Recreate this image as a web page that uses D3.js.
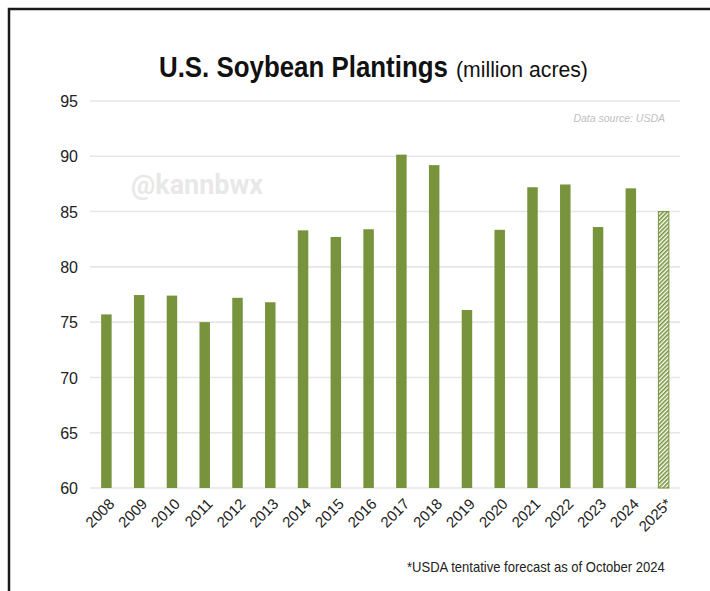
<!DOCTYPE html>
<html>
<head>
<meta charset="utf-8">
<script src="https://cdn.jsdelivr.net/npm/d3@7"></script>
<style>
html,body{margin:0;padding:0;background:#fff;}
svg{display:block;}
</style>
</head>
<body>
<script>
const years = ["2008","2009","2010","2011","2012","2013","2014","2015","2016","2017","2018","2019","2020","2021","2022","2023","2024","2025*"];
const acres = [75.7,77.45,77.4,75.0,77.2,76.8,83.3,82.7,83.4,90.15,89.2,76.1,83.35,87.2,87.45,83.6,87.1,85.0];
const forecast = [false,false,false,false,false,false,false,false,false,false,false,false,false,false,false,false,false,true];
const yTicks = [60,65,70,75,80,85,90,95];

const W = 710, H = 591;
const svg = d3.select("body").append("svg").attr("width", W).attr("height", H);

const defs = svg.append("defs");
const pat = defs.append("pattern").attr("id","hatch").attr("patternUnits","userSpaceOnUse")
  .attr("width",3).attr("height",3).attr("patternTransform","rotate(45)");
pat.append("rect").attr("width",3).attr("height",3).attr("fill","#ffffff");
pat.append("rect").attr("width",1.6).attr("height",3).attr("fill","#77933c");

// frame
svg.append("path").attr("d","M9,591 V9 H710").attr("fill","none").attr("stroke","#1a1a1a").attr("stroke-width",2.5);

const x = d3.scaleBand().domain(years).range([90,680]).paddingInner(0.68).paddingOuter(0.34);
const y = d3.scaleLinear().domain([60,95]).range([488,101]);

// grid
svg.append("g").selectAll("line").data(yTicks).join("line")
  .attr("x1",90).attr("x2",680).attr("y1",d=>y(d)).attr("y2",d=>y(d))
  .attr("stroke","#e6e6e6").attr("stroke-width",1.6);

// y axis
const yAxis = d3.axisLeft(y).tickValues(yTicks).tickSize(0).tickPadding(0);
const gy = svg.append("g").attr("transform","translate(78,0)").call(yAxis);
gy.select(".domain").remove();
gy.selectAll("text").attr("font-family","Liberation Sans, Arial, sans-serif").attr("font-size",16).attr("fill","#222").attr("dy","0.35em");

// watermark
svg.append("text").attr("x",131).attr("y",194).text("@kannbwx")
  .attr("font-family","Roboto, Liberation Sans, sans-serif").attr("font-weight","bold").attr("font-size",27).attr("fill","#e8e8e8");

// data source
svg.append("text").attr("x",665).attr("y",122).attr("text-anchor","end").text("Data source: USDA")
  .attr("font-family","Liberation Sans, Arial, sans-serif").attr("font-style","italic").attr("font-size",10.5).attr("fill","#c0c0c0");

// bars
svg.append("g").selectAll("rect").data(years).join("rect")
  .attr("x",d=>x(d)).attr("width",x.bandwidth())
  .attr("y",(d,i)=>y(acres[i])).attr("height",(d,i)=>y(60)-y(acres[i]))
  .attr("fill",(d,i)=>forecast[i]?"url(#hatch)":"#77933c")
  .attr("stroke",(d,i)=>forecast[i]?"#77933c":"none").attr("stroke-width",1);

// x axis
const xAxis = d3.axisBottom(x).tickSize(0).tickPadding(0);
const gx = svg.append("g").attr("transform","translate(0,499)").call(xAxis);
gx.select(".domain").remove();
gx.selectAll("text").attr("font-family","Liberation Sans, Arial, sans-serif").attr("font-size",15).attr("fill","#222")
  .attr("text-anchor","end").attr("dy","0.7em").attr("dx","0.15em")
  .attr("transform","rotate(-45)");

// horizontally condensed text helper
function fitText(str, x0, y0, width, attrs){
  const g = svg.append("g");
  const t = g.append("text").attr("x",0).attr("y",0).text(str);
  for (const k in attrs) t.attr(k, attrs[k]);
  const w = t.node().getComputedTextLength();
  g.attr("transform", `translate(${x0},${y0}) scale(${width/w},1)`);
  return t;
}
const ff = "Liberation Sans, Arial, sans-serif";
fitText("U.S. Soybean Plantings", 159, 77, 289, {"font-family":ff,"font-weight":"bold","font-size":30,"fill":"#111"});
fitText("(million acres)", 456, 77, 132, {"font-family":ff,"font-size":22,"fill":"#111"});
fitText("*USDA tentative forecast as of October 2024", 407, 572, 258, {"font-family":ff,"font-size":14,"fill":"#222"});
</script>
</body>
</html>
